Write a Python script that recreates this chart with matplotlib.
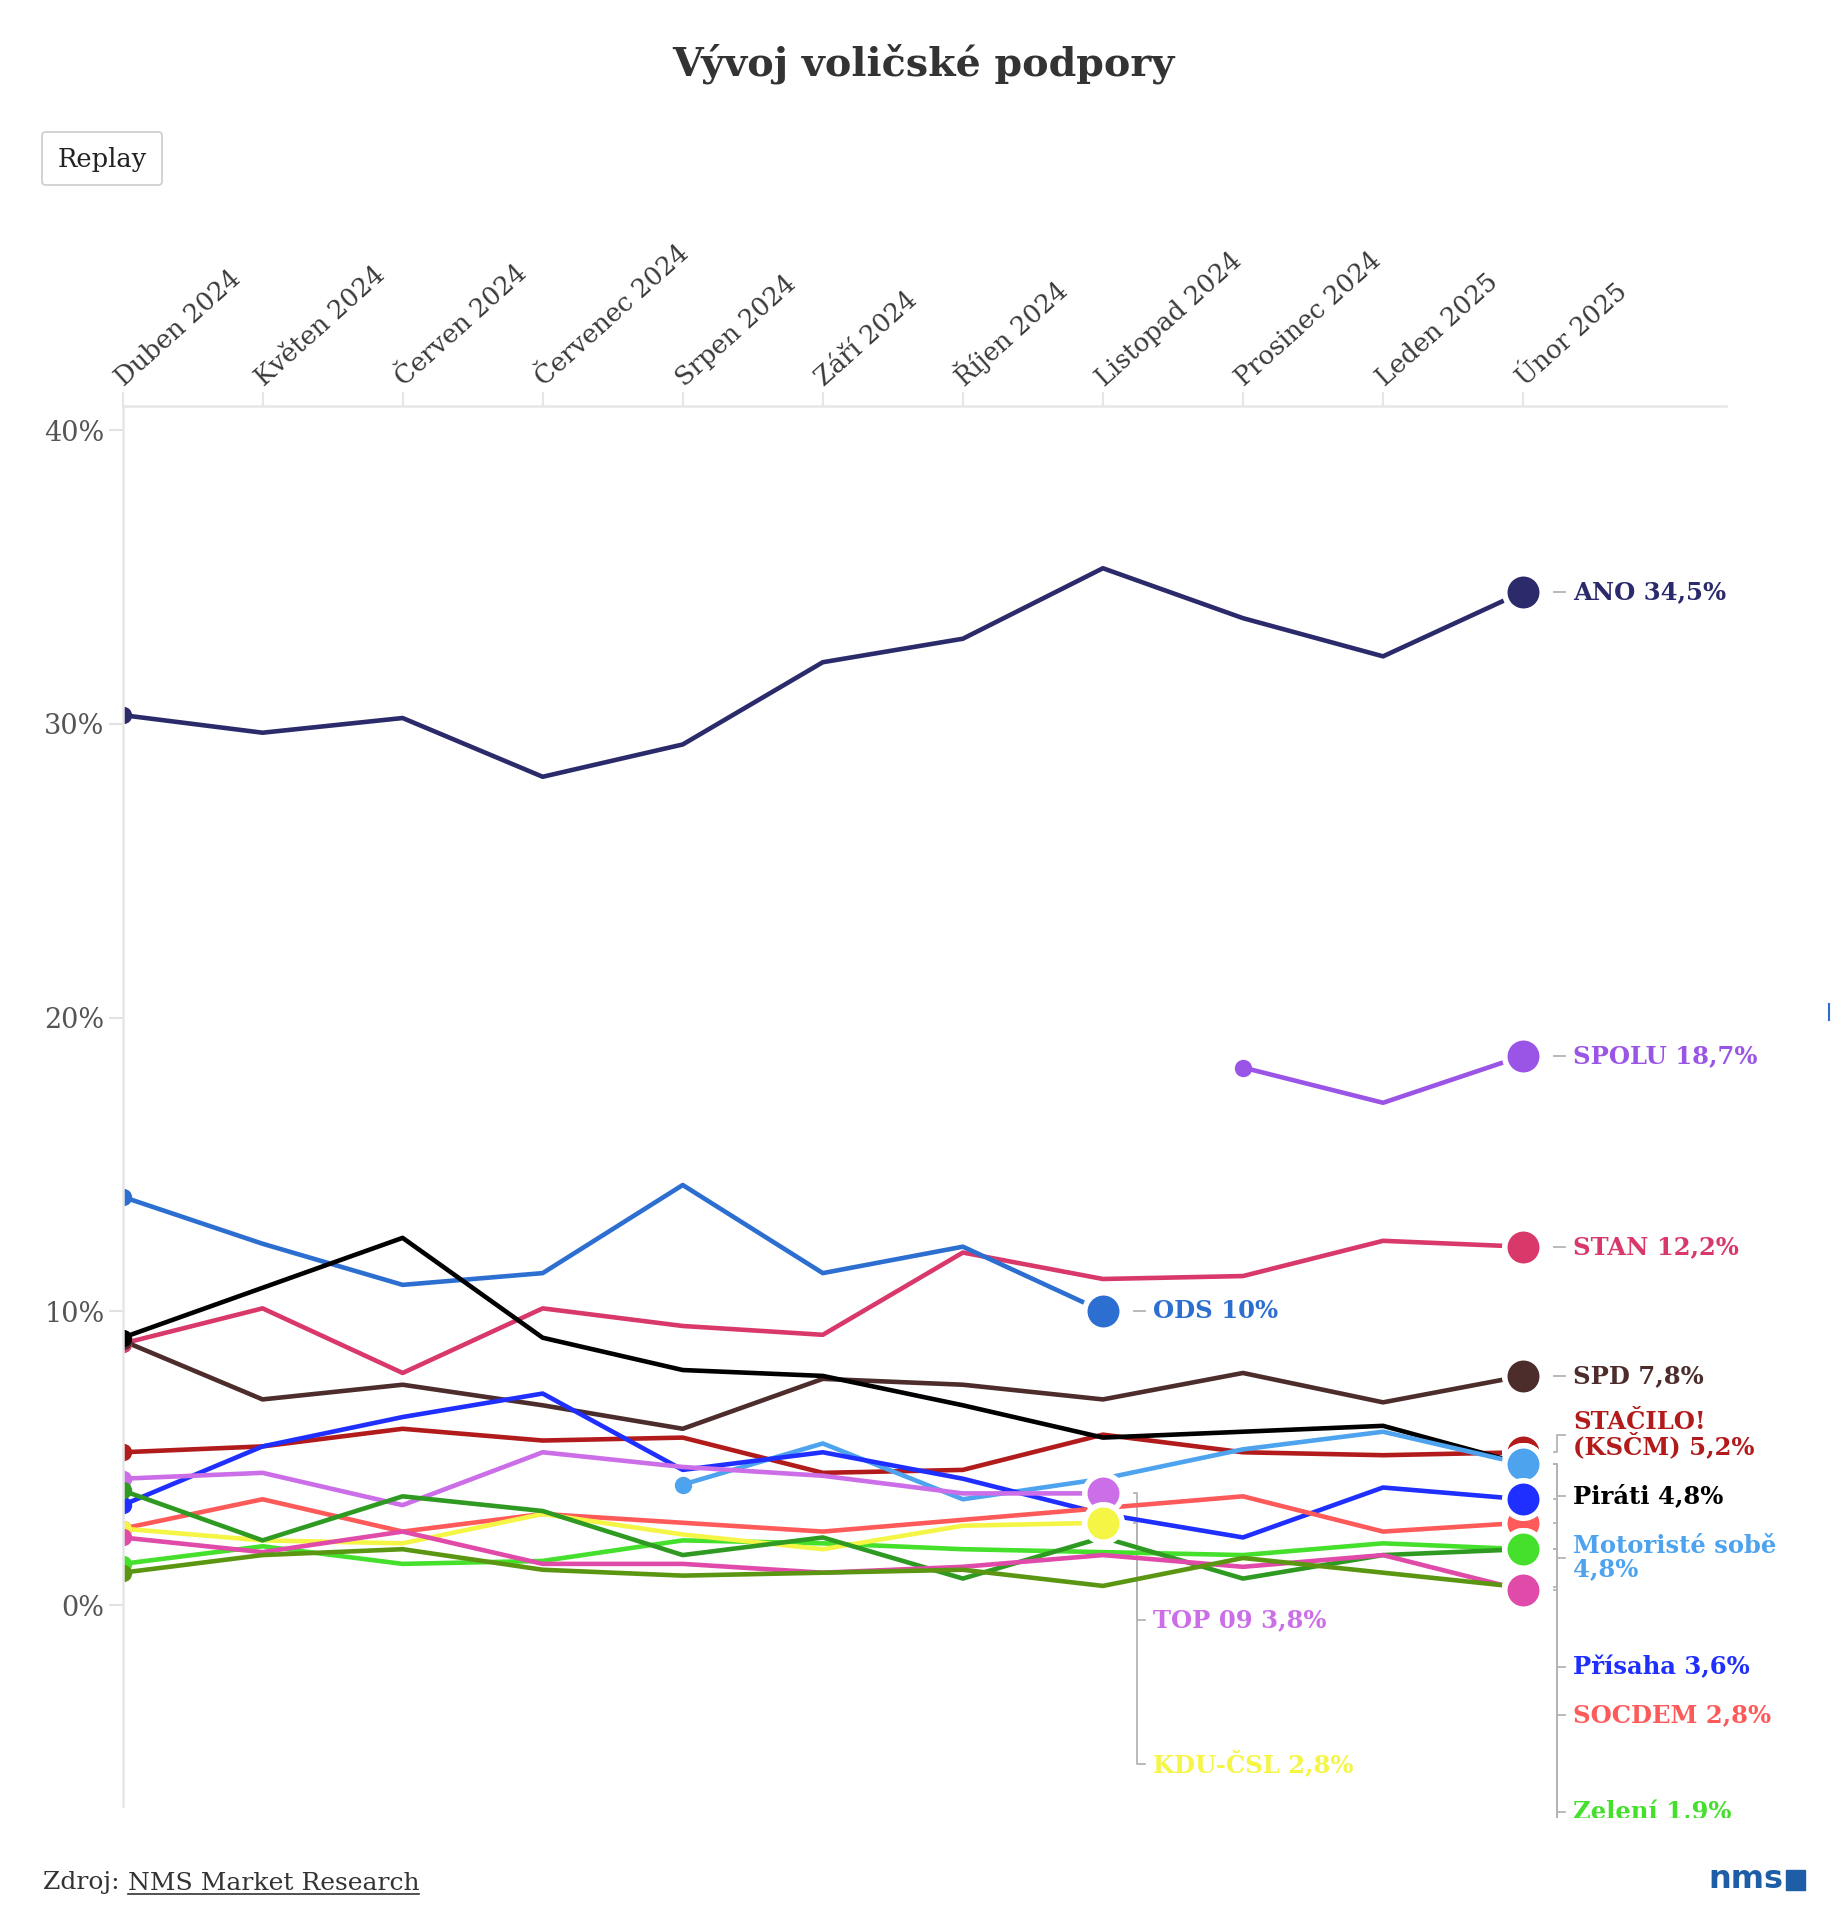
import matplotlib.pyplot as plt
import numpy as np
from matplotlib.transforms import ScaledTranslation, blended_transform_factory, Bbox, TransformedBbox
from matplotlib.patches import FancyBboxPatch, Rectangle
from matplotlib.lines import Line2D

plt.rcParams['font.family'] = ['DejaVu Serif']

W, H, DPI = 1846, 1920, 100

# data
months = ["Duben 2024", "Květen 2024", "Červen 2024", "Červenec 2024", "Srpen 2024",
          "Září 2024", "Říjen 2024", "Listopad 2024", "Prosinec 2024", "Leden 2025", "Únor 2025"]

n = np.nan
ano = [30.3, 29.7, 30.2, 28.2, 29.3, 32.1, 32.9, 35.3, 33.6, 32.3, 34.5]
spolu = [n, n, n, n, n, n, n, n, 18.3, 17.1, 18.7]
stan = [8.9, 10.1, 7.9, 10.1, 9.5, 9.2, 12.0, 11.1, 11.2, 12.4, 12.2]
ods = [13.9, 12.3, 10.9, 11.3, 14.3, 11.3, 12.2, 10.0, n, n, n]
spd = [9.0, 7.0, 7.5, 6.8, 6.0, 7.7, 7.5, 7.0, 7.9, 6.9, 7.8]
stacilo = [5.2, 5.4, 6.0, 5.6, 5.7, 4.5, 4.6, 5.8, 5.2, 5.1, 5.2]
pirati = [9.1, 10.8, 12.5, 9.1, 8.0, 7.8, 6.8, 5.7, 5.9, 6.1, 4.8]
motoriste = [n, n, n, n, 4.1, 5.5, 3.6, 4.3, 5.3, 5.9, 4.8]
prisaha = [3.4, 5.4, 6.4, 7.2, 4.6, 5.2, 4.3, 3.1, 2.3, 4.0, 3.6]
socdem = [2.6, 3.6, 2.5, 3.1, 2.8, 2.5, 2.9, 3.3, 3.7, 2.5, 2.8]
zeleni = [1.4, 2.0, 1.4, 1.5, 2.2, 2.1, 1.9, 1.8, 1.7, 2.1, 1.9]
top09 = [4.3, 4.5, 3.4, 5.2, 4.7, 4.4, 3.8, 3.8, n, n, n]
kdu = [2.6, 2.2, 2.1, 3.1, 2.4, 1.9, 2.7, 2.8, n, n, n]
dark_green = [3.9, 2.2, 3.7, 3.2, 1.7, 2.3, 0.9, 2.3, 0.9, 1.7, 1.9]
pink = [2.3, 1.8, 2.5, 1.4, 1.4, 1.1, 1.3, 1.7, 1.3, 1.7, 0.5]
olive = [1.1, 1.7, 1.9, 1.2, 1.0, 1.1, 1.2, 0.65, 1.6, 1.1, 0.6]

# name, values, colour, label template, label position (y in %)
series = [
    ("ANO", ano, "#2b2a6b", "ANO {v}%", 34.5),
    ("SPOLU", spolu, "#9b55e6", "SPOLU {v}%", 18.7),
    ("STAN", stan, "#d8396a", "STAN {v}%", 12.2),
    ("ODS", ods, "#2c6fd0", "ODS {v}%", 10.0),
    ("SPD", spd, "#4d2c2c", "SPD {v}%", 7.8),
    ("STAČILO", stacilo, "#b21b1b", "STAČILO!\n(KSČM) {v}%", 5.8),
    ("Piráti", pirati, "#000000", "Piráti {v}%", 3.7),
    ("Motoristé", motoriste, "#4ea3ee", "Motoristé sobě\n{v}%", 1.6),
    ("Přísaha", prisaha, "#1f2fff", "Přísaha {v}%", -2.1),
    ("SOCDEM", socdem, "#ff5a5a", "SOCDEM {v}%", -3.75),
    ("Zelení", zeleni, "#44e02c", "Zelení {v}%", -7.05),
    ("TOP 09", top09, "#cc6ee8", "TOP 09 {v}%", -0.5),
    ("KDU-ČSL", kdu, "#f5f545", "KDU-ČSL {v}%", -5.4),
    ("dark_green", dark_green, "#2e9a22", None, -8.5),
    ("pink", pink, "#e04aa8", None, -10.0),
    ("olive", olive, "#5a9612", None, -11.5),
]

end_order = ["ANO", "SPOLU", "STAN", "SPD", "STAČILO", "Piráti", "Motoristé", "SOCDEM",
             "Přísaha", "olive", "pink", "dark_green", "Zelení", "ODS", "TOP 09", "KDU-ČSL"]

fig = plt.figure(figsize=(W / DPI, H / DPI), dpi=DPI)
fig.patch.set_facecolor('white')

AX_L, AX_R, AX_T, AX_B = 122.5, 1726, 406, 1806
STEP_PX = 140.06
Y0_PX, PCT_PX = 1605, 29.37
ax = fig.add_axes([AX_L / W, 1 - AX_B / H, (AX_R - AX_L) / W, (AX_B - AX_T) / H])
xmax = (AX_R - AX_L) / STEP_PX
ax.set_xlim(0, xmax)
ax.set_ylim(-(AX_B - Y0_PX) / PCT_PX, (Y0_PX - AX_T) / PCT_PX)

for s in ["right", "bottom"]:
    ax.spines[s].set_visible(False)
for s in ["top", "left"]:
    ax.spines[s].set_color("#e6e6e6")
    ax.spines[s].set_linewidth(1.8)

ax.set_yticks([0, 10, 20, 30, 40])
ax.set_yticklabels(["0%", "10%", "20%", "30%", "40%"])
ax.tick_params(axis='y', length=10, width=1.5, color='#e2e2e2', labelsize=19.5,
               labelcolor='#555555', pad=3)
ax.set_xticks(range(len(months)))
ax.tick_params(axis='x', top=True, bottom=False, labeltop=False, labelbottom=False,
               length=10, width=1.5, color='#e6e6e6')

lab_tr = blended_transform_factory(ax.transData, ax.transAxes) + \
    ScaledTranslation(1.5 / DPI, 19 / DPI, fig.dpi_scale_trans)
for i, m in enumerate(months):
    ax.text(i, 1, m, transform=lab_tr, rotation=42, rotation_mode='anchor',
            ha='left', va='baseline', fontsize=18.5, color='#3a3a3a')

x = np.arange(len(months))
clip = TransformedBbox(Bbox([[0, (H - 1818) / H], [1, 1]]), fig.transFigure)


def fmt(v):
    return f"{v:g}".replace('.', ',')


for name, vals, col, tmpl, ly in series:
    y = np.array(vals, dtype=float)
    ok = np.where(~np.isnan(y))[0]
    i0, i1 = ok[0], ok[-1]
    ax.plot(x, y, color=col, lw=3.3, solid_joinstyle='round', zorder=2)
    ax.plot(x[i0], y[i0], 'o', ms=11.5, color=col, zorder=2.5)
    z = 5 + end_order.index(name) * 0.01
    ax.plot(x[i1], y[i1], 'o', ms=27, mfc=col, mec='white', mew=4, zorder=z)

    # connector and label
    off = lambda px: x[i1] + px / STEP_PX
    ln, = ax.plot([off(31), off(34), off(34), off(42)], [y[i1], y[i1], ly, ly],
                  color='#b4b4b4', lw=1.3, zorder=1.5, clip_on=True)
    ln.set_clip_box(clip)
    if tmpl:
        t = ax.text(off(50), ly, tmpl.format(v=fmt(y[i1])), color=col, fontsize=17.5,
                    weight='bold', ha='left', va='center', linespacing=0.95,
                    clip_on=True, zorder=6)
        t.set_clip_box(clip)

fig.text(0.5, 1 - 64 / H, "Vývoj voličské podpory", ha='center', va='center',
         fontsize=28.5, weight='bold', color='#333333')

fig.add_artist(FancyBboxPatch((42 / W, 1 - 185 / H), 120 / W, 53 / H,
                              boxstyle='round,pad=0,rounding_size=0.002',
                              transform=fig.transFigure, fc='white', ec='#cccccc', lw=1.2))
fig.text(102 / W, 1 - 159 / H, "Replay", ha='center', va='center', fontsize=18.5, color='#222222')

t1 = fig.text(43 / W, 1 - 1883 / H, "Zdroj: ", ha='left', va='center', fontsize=18, color='#333333')
r = fig.canvas.get_renderer()
bb = t1.get_window_extent(r)
t2 = fig.text(bb.x1 / W, 1 - 1883 / H, "NMS Market Research", ha='left', va='center',
              fontsize=18, color='#333333')
bb2 = t2.get_window_extent(r)
fig.add_artist(Line2D([bb2.x0 / W, bb2.x1 / W], [(bb2.y0 + 1) / H] * 2, color='#333333', lw=1.2))

fig.text(1708 / W, 1 - 1880 / H, "nms", ha='left', va='center', fontfamily='DejaVu Sans',
         weight='bold', fontsize=23, color='#1d5ea6')
fig.add_artist(Rectangle((1786 / W, 1 - 1890 / H), 19 / W, 20 / H, color='#1d5ea6',
                         transform=fig.transFigure))
fig.add_artist(Line2D([1829 / W] * 2, [1 - 1004 / H, 1 - 1020 / H], color='#2c6fd0', lw=1.5))

fig.savefig("out.png", dpi=DPI)
